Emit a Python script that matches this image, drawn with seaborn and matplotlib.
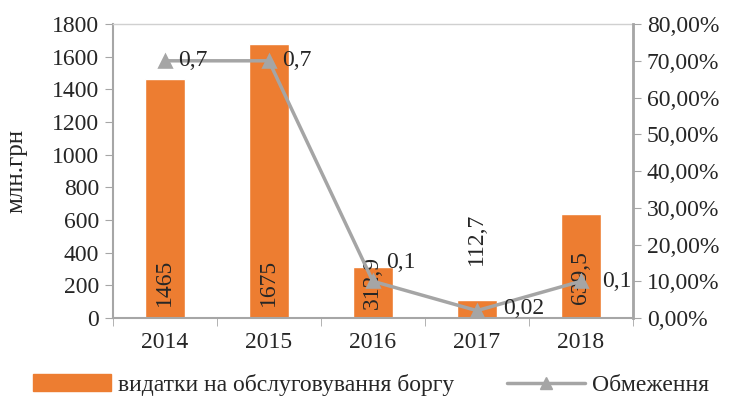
import numpy as np
import pandas as pd
import matplotlib
matplotlib.use("Agg")
import matplotlib.pyplot as plt
import seaborn as sns
from matplotlib.ticker import FuncFormatter
from matplotlib.lines import Line2D
from matplotlib.patches import Patch

# Дані
years = ["2014", "2015", "2016", "2017", "2018"]
expenses = [1465, 1675, 312.9, 112.7, 639.5]
limits = [0.7, 0.7, 0.1, 0.02, 0.1]
expense_labels = ["1465", "1675", "312,9", "112,7", "639,5"]
limit_labels = ["0,7", "0,7", "0,1", "0,02", "0,1"]

sns.set_style("white")
plt.rcParams['font.family'] = ['Liberation Serif', 'DejaVu Serif']

ORANGE = "#ED7D31"
GREY = "#A5A5A5"
AXC = "#A6A6A6"
FS = 17

fig = plt.figure(figsize=(7.42, 4.01), dpi=100)
ax = fig.add_axes([0.152, 0.207, 0.701, 0.733])

df = pd.DataFrame({"year": years, "exp": expenses})
sns.barplot(data=df, x="year", y="exp", color=ORANGE, width=0.39,
            saturation=1, ax=ax)

ax.set_ylim(0, 1800)
ax.set_yticks(range(0, 1801, 200))
ax.set_xlim(-0.5, 4.5)
ax.set_xlabel("")
ax.set_ylabel("млн.грн", fontsize=FS + 1)
ax.yaxis.set_label_coords(-0.165, 0.5)
ax.tick_params(axis="y", labelsize=FS, length=6, color=AXC, direction="out", left=True, pad=4)
ax.tick_params(axis="x", labelsize=FS, length=0, pad=10)
# риски між категоріями
ax.set_xticks(np.arange(-0.5, 4.6, 1), minor=True)
ax.tick_params(axis="x", which="minor", length=6, color=AXC, direction="out", bottom=True)

for s in ax.spines.values():
    s.set_color(AXC)
    s.set_linewidth(1)
ax.spines["left"].set_linewidth(1.5)
ax.spines["bottom"].set_linewidth(1.5)
ax.spines["top"].set_color("#D0D0D0")

# підписи стовпців (вертикальні)
label_y = [220, 220, 220, expenses[3] + 370, 245]
for i, (lab, yy) in enumerate(zip(expense_labels, label_y)):
    ax.text(i, yy, lab, rotation=90, ha="center", va="center", fontsize=FS)

ax2 = ax.twinx()
lim_df = pd.DataFrame({"year": years, "lim": limits})
sns.pointplot(data=lim_df, x="year", y="lim", color=GREY, markers="^",
              markersize=8, linewidth=2.5, ax=ax2)
ax2.set_xlim(-0.5, 4.5)
ax2.set_ylim(0, 0.8)
ax2.set_yticks(np.arange(0, 0.81, 0.1))
ax2.yaxis.set_major_formatter(FuncFormatter(lambda v, p: f"{v*100:.2f}%".replace(".", ",")))
ax2.set_ylabel("")
ax2.set_xlabel("")
ax2.tick_params(axis="y", labelsize=FS, length=6, color=AXC, direction="out", right=True, pad=4)
for s in ax2.spines.values():
    s.set_visible(False)
ax2.spines["right"].set_visible(True)
ax2.spines["right"].set_color(AXC)
ax2.spines["right"].set_linewidth(2)

# підписи лінії
offs = [(0.27, 0.0), (0.27, 0.0), (0.27, 0.05), (0.45, 0.005), (0.35, 0.0)]
for i, (lab, (dx, dy)) in enumerate(zip(limit_labels, offs)):
    ax2.text(i + dx, limits[i] + dy, lab, ha="center", va="center", fontsize=FS)

handles = [Patch(color=ORANGE),
           Line2D([0], [0], color=GREY, lw=2.5, marker="^", markersize=9)]
fig.legend(handles, ["видатки на обслуговування боргу", "Обмеження"],
           loc="lower center", bbox_to_anchor=(0.5, -0.04), ncol=2, frameon=False,
           fontsize=FS, handlelength=3.3, columnspacing=2.2, handletextpad=0.3)

fig.savefig("out.png", dpi=100)
